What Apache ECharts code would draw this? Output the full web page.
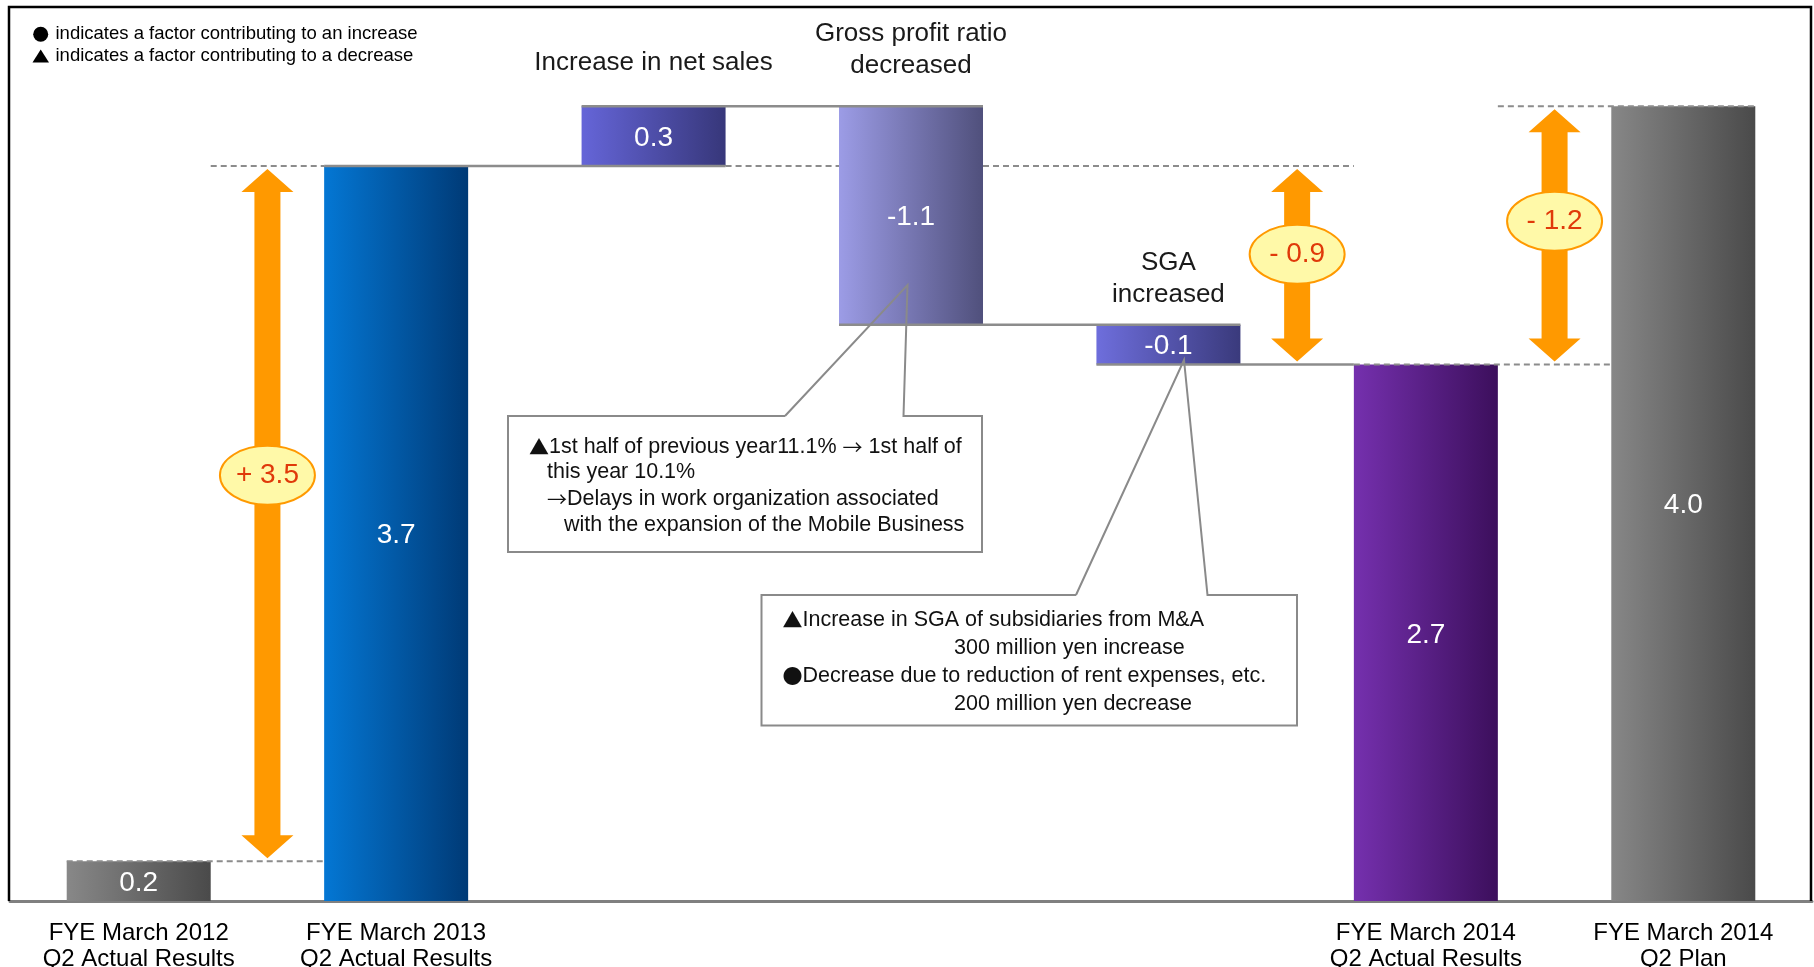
<!DOCTYPE html>
<html>
<head>
<meta charset="utf-8">
<script src="https://cdn.jsdelivr.net/npm/echarts@6/dist/echarts.min.js"></script>
<style>
html,body{margin:0;padding:0;background:#fff;}
#main{width:1814px;height:967px;}
</style>
</head>
<body>
<div id="main"></div>
<script>
// ---------------- DATA ----------------
const categories = [
  'FYE March 2012\nQ2 Actual Results',
  'FYE March 2013\nQ2 Actual Results',
  'Increase in net sales',
  'Gross profit ratio\ndecreased',
  'SGA\nincreased',
  'FYE March 2014\nQ2 Actual Results',
  'FYE March 2014\nQ2 Plan'
];
const resultBars = [true, true, false, false, false, true, true];
const totals  = [0.2, 3.7, null, null, null, 2.7, 4.0];
const changes = [null, null, 0.3, -1.1, -0.2, null, null];
const valueLabels = ['0.2', '3.7', '0.3', '-1.1', '-0.1', '2.7', '4.0'];
const diffLabels = ['+ 3.5', '- 0.9', '- 1.2'];
const legendLines = [
  'indicates a factor contributing to an increase',
  'indicates a factor contributing to a decrease'
];
const grossProfitNote = [
  '\u25B21st half of previous year11.1% \u2192 1st half of',
  'this year 10.1%',
  '\u2192Delays in work organization associated',
  'with the expansion of the Mobile Business'
];
const sgaNote = [
  '\u25B2Increase in SGA of subsidiaries from M&A',
  '300 million yen increase',
  '\u25CFDecrease due to reduction of rent expenses, etc.',
  '200 million yen decrease'
];

// ---------------- WATERFALL COMPUTATION ----------------
const bases = [], heights = [], tops = [], levelAfter = [];
let level = 0;
for (let i = 0; i < categories.length; i++) {
  if (totals[i] != null) {
    bases.push(0); heights.push(totals[i]); level = totals[i];
  } else {
    const end = level + changes[i];
    bases.push(Math.min(level, end)); heights.push(Math.abs(changes[i])); level = end;
  }
  tops.push(bases[i] + heights[i]);
  levelAfter.push(level);
}

// ---------------- STYLE ----------------
const FONT = "'Liberation Sans', Arial, 'Noto Sans CJK JP', sans-serif";
const CJK = "'Noto Sans CJK JP', sans-serif";
const BAR_W = 144;
const barGradients = [
  ['#888888', '#4a4a4a'],
  ['#0477D4', '#003A76'],
  ['#6565D8', '#37377A'],
  ['#9C9CE6', '#50507C'],
  ['#6E6EDC', '#3A3A7C'],
  ['#7530AE', '#3C0F5C'],
  ['#878787', '#4a4a4a']
];
function grad(c) {
  return new echarts.graphic.LinearGradient(0, 0, 1, 0, [{offset: 0, color: c[0]}, {offset: 1, color: c[1]}]);
}

// connector / reference segments (edge: -1 left, +1 right of bar)
const segs = [];
for (let i = 1; i <= 4; i++) {
  segs.push({v: levelAfter[i], c1: i, e1: -1, c2: i + 1, e2: resultBars[i + 1] ? -1 : 1, dashed: false});
}
segs.push({v: levelAfter[0], c1: 0, e1: -1, c2: 1, e2: -1, dashed: true});
segs.push({v: levelAfter[1], c1: 0, e1: 1, c2: 1, e2: -1, dashed: true});
segs.push({v: levelAfter[1], c1: 2, e1: 1, c2: 3, e2: -1, dashed: true});
segs.push({v: levelAfter[1], c1: 3, e1: 1, c2: 5, e2: -1, dashed: true});
segs.push({v: levelAfter[5], c1: 5, e1: -1, c2: 6, e2: -1, dashed: true});
segs.push({v: levelAfter[6], c1: 5, e1: 1, c2: 6, e2: 1, dashed: true});

const diffs = [
  {slot: [0, 1], from: totals[0], to: totals[1], label: diffLabels[0]},
  {slot: [4, 5], from: totals[1], to: totals[5], label: diffLabels[1]},
  {slot: [5, 6], from: totals[6], to: totals[5], label: diffLabels[2]}
];
const titleIdx = [2, 3, 4];
const titleGap = [28, 25, 14];

function txt(x, y, text, size, color, align, valign, extra) {
  return Object.assign({
    type: 'text', x: x, y: y,
    style: {
      text: text, fontSize: size, fontFamily: FONT, fill: color,
      align: align, verticalAlign: valign, textAlign: align, textVerticalAlign: valign
    }
  }, extra || {});
}
function noteText(x, y, text) {
  const rich = text.replace(/([\u25B2\u25CF\u2192])/g, '{s|$1}');
  const t = txt(x, y, rich, 21.5, '#111', 'left', 'middle', {z: 21});
  t.style.rich = {s: {fontFamily: CJK, fontSize: 20, fill: '#111'}};
  return t;
}

const chart = echarts.init(document.getElementById('main'));

const graphics = [];
// frame
graphics.push({type: 'polyline', z: 1, shape: {points: [[9, 901], [9, 7], [1811, 7], [1811, 901]]},
  style: {stroke: '#000', lineWidth: 2.5, fill: null}});
// legend
graphics.push({type: 'circle', shape: {cx: 40.7, cy: 34.3, r: 7.5}, style: {fill: '#000'}});
graphics.push({type: 'polygon', shape: {points: [[40.7, 49.5], [49, 62.5], [32.5, 62.5]]}, style: {fill: '#000'}});
graphics.push(txt(55.5, 34.3, legendLines[0], 18.5, '#000', 'left', 'middle'));
graphics.push(txt(55.5, 56, legendLines[1], 18.5, '#000', 'left', 'middle'));
// gross profit callout
graphics.push({type: 'polyline', z: 20, shape: {points: [[785, 416], [508, 416], [508, 552], [982, 552], [982, 416], [903.5, 416], [907.5, 285], [785, 416]]},
  style: {stroke: '#8a8a8a', lineWidth: 2, fill: null}});
const gpX = [529, 547, 547, 564], gpY = [447.5, 472.5, 499, 525];
grossProfitNote.forEach((t, k) => graphics.push(noteText(gpX[k], gpY[k], t)));
// SGA callout
graphics.push({type: 'polyline', z: 20, shape: {points: [[1076, 595], [761.5, 595], [761.5, 725.5], [1297, 725.5], [1297, 595], [1207.5, 595], [1184, 360], [1076, 595]]},
  style: {stroke: '#8a8a8a', lineWidth: 2, fill: null}});
const sgX = [782.5, 954, 782.5, 954], sgY = [620, 648.5, 676.5, 704];
sgaNote.forEach((t, k) => graphics.push(noteText(sgX[k], sgY[k], t)));

const option = {
  animation: false,
  backgroundColor: '#fff',
  grid: {left: 10, right: 2, top: 7, bottom: 66, containLabel: false, outerBoundsMode: 'none'},
  xAxis: {
    type: 'category', data: categories,
    axisTick: {show: false},
    axisLine: {show: true, lineStyle: {color: '#808080', width: 3}},
    axisLabel: {
      interval: 0, margin: 19, fontSize: 24, lineHeight: 26, color: '#000', fontFamily: FONT,
      formatter: (v, i) => resultBars[i] ? v : ''
    },
    splitLine: {show: false}
  },
  yAxis: {type: 'value', min: 0, max: 4.5, show: false},
  series: [
    {
      name: 'base', type: 'bar', stack: 'w', barWidth: BAR_W, silent: true, z: 2,
      itemStyle: {color: 'rgba(0,0,0,0)'}, data: bases
    },
    {
      name: 'value', type: 'bar', stack: 'w', barWidth: BAR_W, z: 2,
      data: heights.map((h, i) => ({value: h, itemStyle: {color: grad(barGradients[i])}})),
      label: {
        show: true, position: 'inside', color: '#fff', fontSize: 28, fontFamily: FONT, offset: [0, 2],
        formatter: p => valueLabels[p.dataIndex]
      }
    },
    {
      name: 'connectors', type: 'custom', z: 3, silent: true,
      data: segs.map(s => [s.c1, s.v]),
      renderItem: (params, api) => {
        const s = segs[params.dataIndex];
        const a = api.coord([s.c1, s.v]), b = api.coord([s.c2, s.v]);
        const x1 = a[0] + s.e1 * BAR_W / 2, x2 = b[0] + s.e2 * BAR_W / 2;
        const y = a[1];
        return {type: 'line', shape: {x1: x1, y1: y, x2: x2, y2: y},
          style: {stroke: '#8c8c8c', lineWidth: s.dashed ? 2 : 2.5, lineDash: s.dashed ? [6, 4] : null}};
      }
    },
    {
      name: 'titles', type: 'custom', z: 3, silent: true,
      data: titleIdx.map(i => [i, tops[i]]),
      renderItem: (params, api) => {
        const i = titleIdx[params.dataIndex];
        const p = api.coord([i, tops[i]]);
        const t = txt(p[0], p[1] - titleGap[params.dataIndex], categories[i], 26, '#1a1a1a', 'center', 'bottom');
        t.style.lineHeight = 32;
        return t;
      }
    },
    {
      name: 'differences', type: 'custom', z: 4, silent: true,
      data: diffs.map(d => [d.slot[0], d.from]),
      renderItem: (params, api) => {
        const d = diffs[params.dataIndex];
        const pa = api.coord([d.slot[0], d.from]), pb = api.coord([d.slot[1], d.to]);
        const cx = (pa[0] + pb[0]) / 2;
        const inset = 3, hw = 26, sw = 13, hl = 23;
        const yt = Math.min(pa[1], pb[1]) + inset, yb = Math.max(pa[1], pb[1]) - inset;
        const lo = Math.min(d.from, d.to), hi = Math.max(d.from, d.to);
        const cy = api.coord([d.slot[0], lo + (hi - lo) * 0.555])[1];
        return {
          type: 'group',
          children: [
            {type: 'polygon', shape: {points: [
              [cx, yt], [cx + hw, yt + hl], [cx + sw, yt + hl], [cx + sw, yb - hl], [cx + hw, yb - hl],
              [cx, yb], [cx - hw, yb - hl], [cx - sw, yb - hl], [cx - sw, yt + hl], [cx - hw, yt + hl]]},
              style: {fill: '#FF9900'}},
            {type: 'ellipse', shape: {cx: cx, cy: cy, rx: 47.5, ry: 29.5},
              style: {fill: '#FFF9A8', stroke: '#FF9900', lineWidth: 2}},
            txt(cx, cy, d.label, 28, '#E0390A', 'center', 'middle')
          ]
        };
      }
    }
  ],
  graphic: graphics
};
chart.setOption(option);
</script>
</body>
</html>
